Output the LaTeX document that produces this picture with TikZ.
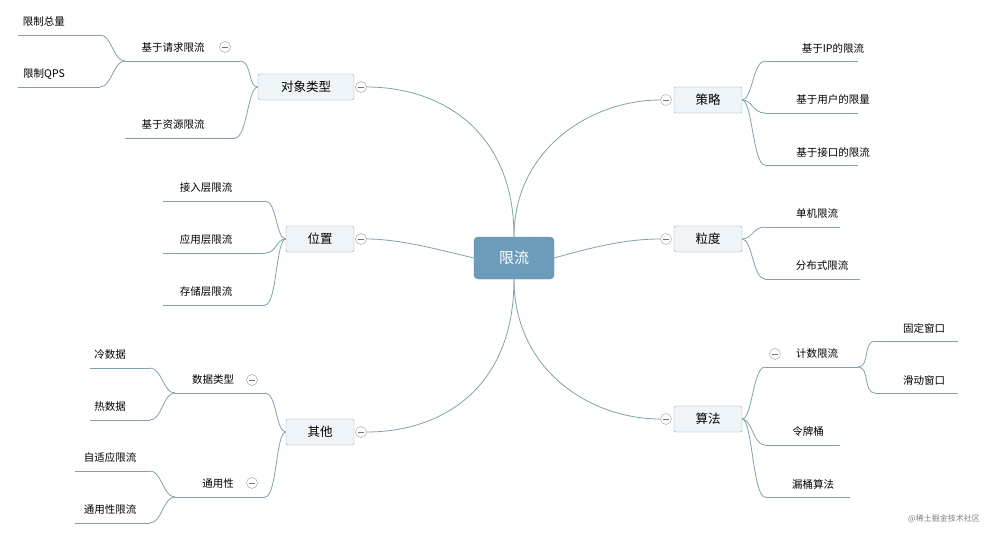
\documentclass[tikz,border=0pt]{standalone}
\usepackage{fontspec}
\setmainfont{Noto Sans CJK SC}
\usetikzlibrary{positioning,calc}
\definecolor{linec}{HTML}{7FA2AC}
\definecolor{boxc}{HTML}{8FA9BC}
\definecolor{boxf}{HTML}{EEF4F8}
\definecolor{rootf}{HTML}{6D9CBA}
\tikzset{
  root/.style={rectangle, rounded corners=4pt, fill=rootf, draw=rootf!90!black, text=white,
               minimum width=80pt, minimum height=42pt, font=\fontsize{15}{18}\selectfont},
  topic/.style={rectangle, rounded corners=2pt, draw=boxc, fill=boxf, minimum height=26pt,
                inner sep=2pt, font=\fontsize{12.5}{15}\selectfont},
  leaf/.style={inner sep=0pt, font=\fontsize{10.5}{13}\selectfont},
  branch/.style={draw=linec, line width=0.8pt},
  fold/.style={circle, draw=gray!80, minimum size=11pt, inner sep=0pt,
               path picture={\draw[gray!90!black, line width=0.6pt] ($(path picture bounding box.west)+(2.5pt,0)$) -- ++(6pt,0);}},
}
% #1 name, #2 left x, #3 right x, #4 underline y, #5 text x, #6 text
\newcommand{\leafline}[6]{%
  \coordinate (#1-l) at (#2,#4);
  \coordinate (#1-r) at (#3,#4);
  \draw[branch] (#1-l) -- (#1-r);
  \node[leaf] (#1) at (#5,#4-13) {#6};}
\begin{document}
\begin{tikzpicture}[x=1pt, y=-1pt]
  \useasboundingbox[fill=white] (0,0) rectangle (989,535);

  \node[root] (root) at (514,258) {限流};

  % left topics
  \node[topic, minimum width=96pt] (obj) at (306,87) {对象类型};
  \node[topic, minimum width=68pt] (pos) at (320,239) {位置};
  \node[topic, minimum width=68pt] (oth) at (320,432) {其他};
  \node[fold] (obj-f) at (361,87) {};
  \node[fold] (pos-f) at (361,239) {};
  \node[fold] (oth-f) at (361,432) {};

  % right topics
  \node[topic, minimum width=68pt] (str) at (708,100) {策略};
  \node[topic, minimum width=68pt] (gra) at (708,239) {粒度};
  \node[topic, minimum width=68pt] (alg) at (708,419) {算法};
  \node[fold] (str-f) at (666,100) {};
  \node[fold] (gra-f) at (666,239) {};
  \node[fold] (alg-f) at (666,419) {};

  % root to topics
  \draw[branch] (root.north) .. controls (514,130) and (440,87) .. (obj-f.east);
  \draw[branch] (root.west) .. controls (440,250) and (400,239) .. (pos-f.east);
  \draw[branch] (root.south) .. controls (514,390) and (440,432) .. (oth-f.east);
  \draw[branch] (root.north) .. controls (514,150) and (590,100) .. (str-f.west);
  \draw[branch] (root.east) .. controls (600,245) and (630,239) .. (gra-f.west);
  \draw[branch] (root.south) .. controls (514,370) and (590,419) .. (alg-f.west);

  % 对象类型
  \leafline{req}{125}{240}{61}{173}{基于请求限流}
  \leafline{res}{125}{235}{138}{173}{基于资源限流}
  \node[fold] (req-f) at (225,47) {};
  \leafline{tot}{18}{100}{35}{44}{限制总量}
  \leafline{qps}{18}{100}{87}{44}{限制QPS}
  \foreach \c in {req,res}
    \draw[branch] (obj.west) .. controls +(-10,0) and +(12,0) .. (\c-r);
  \foreach \c in {tot,qps}
    \draw[branch] (req-l) .. controls +(-12,0) and +(12,0) .. (\c-r);

  % 位置
  \leafline{acc}{163}{265}{201}{206}{接入层限流}
  \leafline{app}{163}{265}{253}{206}{应用层限流}
  \leafline{sto}{163}{265}{305}{206}{存储层限流}
  \foreach \c in {acc,app,sto}
    \draw[branch] (pos.west) .. controls +(-10,0) and +(12,0) .. (\c-r);

  % 其他
  \leafline{dat}{175}{265}{393}{213}{数据类型}
  \leafline{gen}{175}{265}{497}{218}{通用性}
  \node[fold] (dat-f) at (252,380) {};
  \node[fold] (gen-f) at (252,483) {};
  \leafline{cold}{90}{150}{368}{110}{冷数据}
  \leafline{hot}{90}{150}{420}{110}{热数据}
  \leafline{ada}{75}{150}{471}{110}{自适应限流}
  \leafline{uni}{75}{150}{523}{110}{通用性限流}
  \foreach \c in {dat,gen}
    \draw[branch] (oth.west) .. controls +(-10,0) and +(12,0) .. (\c-r);
  \foreach \c in {cold,hot}
    \draw[branch] (dat-l) .. controls +(-12,0) and +(12,0) .. (\c-r);
  \foreach \c in {ada,uni}
    \draw[branch] (gen-l) .. controls +(-12,0) and +(12,0) .. (\c-r);

  % 策略
  \leafline{ip}{765}{858}{61}{833}{基于IP的限流}
  \leafline{usr}{765}{858}{113}{833}{基于用户的限量}
  \leafline{api}{765}{858}{165}{833}{基于接口的限流}
  \foreach \c in {ip,usr,api}
    \draw[branch] (str.east) .. controls +(10,0) and +(-12,0) .. (\c-l);

  % 粒度
  \leafline{one}{765}{840}{227}{817}{单机限流}
  \leafline{dis}{765}{860}{279}{822}{分布式限流}
  \foreach \c in {one,dis}
    \draw[branch] (gra.east) .. controls +(10,0) and +(-12,0) .. (\c-l);

  % 算法
  \leafline{cnt}{765}{858}{367}{817}{计数限流}
  \leafline{tok}{765}{840}{445}{808}{令牌桶}
  \leafline{lea}{765}{850}{497}{813}{漏桶算法}
  \node[fold] (cnt-f) at (775,354) {};
  \leafline{fix}{875}{958}{341}{924}{固定窗口}
  \leafline{sli}{875}{958}{393}{924}{滑动窗口}
  \foreach \c in {cnt,tok,lea}
    \draw[branch] (alg.east) .. controls +(10,0) and +(-12,0) .. (\c-l);
  \foreach \c in {fix,sli}
    \draw[branch] (cnt-r) .. controls +(12,0) and +(-12,0) .. (\c-l);

  \node[leaf, text=gray, font=\fontsize{8}{10}\selectfont] (mark) at (944,519) {@稀土掘金技术社区};
\end{tikzpicture}
\end{document}
